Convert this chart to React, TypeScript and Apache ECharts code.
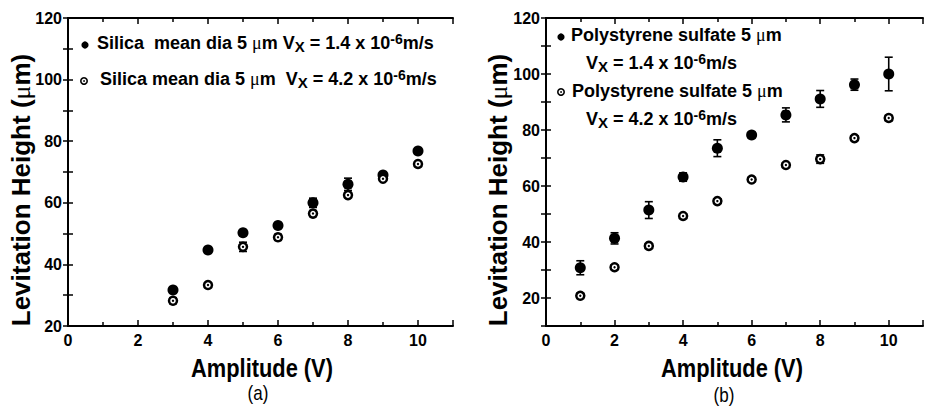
import React, { useEffect, useRef } from "react";
import * as echarts from "echarts";

// Panel (a): silica particles
const amplitudeA = [3, 4, 5, 6, 7, 8, 9, 10];
const silicaSlow = [31.7, 44.7, 50.3, 52.6, 60.0, 66.0, 69.0, 76.8];
const silicaSlowErr = [1.0, 0.5, 0.5, 0.5, 1.5, 2.0, 1.0, 0.5];
const silicaFast = [28.2, 33.3, 45.7, 48.8, 56.5, 62.5, 67.8, 72.6];
const silicaFastErr = [1.0, 0.8, 1.5, 1.0, 1.0, 0.8, 0.8, 0.8];

// Panel (b): polystyrene sulfate particles
const amplitudeB = [1, 2, 3, 4, 5, 6, 7, 8, 9, 10];
const polySlow = [30.8, 41.3, 51.4, 63.2, 73.5, 78.2, 85.4, 91.1, 96.2, 100.0];
const polySlowErr = [2.5, 2.0, 3.0, 1.5, 3.0, 1.0, 2.5, 3.0, 2.0, 6.0];
const polyFast = [20.8, 31.0, 38.6, 49.3, 54.6, 62.3, 67.5, 69.6, 77.1, 84.3];
const polyFastErr = [1.0, 0.8, 0.8, 0.8, 0.8, 0.8, 0.8, 1.5, 0.8, 1.0];

const xTicksShown = [0, 2, 4, 6, 8, 10];

const FONT = '"Liberation Sans", Arial, sans-serif';
const SERIF = '"Liberation Serif", "DejaVu Serif", serif';

const zip = (xs: number[], ys: number[], es?: number[]) =>
  xs.map((x, i) => (es ? [x, ys[i], es[i]] : [x, ys[i]]));

function errorBars(data: number[][], gridIdx: number) {
  return {
    type: "custom",
    xAxisIndex: gridIdx * 2,
    yAxisIndex: gridIdx * 2,
    z: 2,
    silent: true,
    data,
    encode: { x: 0, y: 1 },
    renderItem: (_p: any, api: any) => {
      const x = api.value(0);
      const y = api.value(1);
      const e = api.value(2);
      const hi = api.coord([x, y + e]);
      const lo = api.coord([x, y - e]);
      const w = 4;
      const st = { stroke: "#000", lineWidth: 1.6 };
      return {
        type: "group",
        children: [
          { type: "line", shape: { x1: hi[0], y1: hi[1], x2: lo[0], y2: lo[1] }, style: st },
          { type: "line", shape: { x1: hi[0] - w, y1: hi[1], x2: hi[0] + w, y2: hi[1] }, style: st },
          { type: "line", shape: { x1: lo[0] - w, y1: lo[1], x2: lo[0] + w, y2: lo[1] }, style: st },
        ],
      };
    },
  };
}

function filledSeries(data: number[][], gridIdx: number) {
  return {
    type: "scatter",
    xAxisIndex: gridIdx * 2,
    yAxisIndex: gridIdx * 2,
    z: 3,
    symbol: "circle",
    symbolSize: 11,
    itemStyle: { color: "#000", opacity: 1 },
    data,
  };
}

function openSeries(data: number[][], gridIdx: number) {
  return [
    {
      type: "scatter",
      xAxisIndex: gridIdx * 2,
      yAxisIndex: gridIdx * 2,
      z: 3,
      symbol: "circle",
      symbolSize: 8,
      itemStyle: { color: "#fff", borderColor: "#000", borderWidth: 2.5, opacity: 1 },
      data,
    },
    {
      type: "scatter",
      xAxisIndex: gridIdx * 2,
      yAxisIndex: gridIdx * 2,
      z: 4,
      symbol: "circle",
      symbolSize: 2.4,
      itemStyle: { color: "#000", opacity: 1 },
      data,
    },
  ];
}

const axisLineStyle = { lineStyle: { color: "#000", width: 2 } };

function xAxes(gridIndex: number) {
  const common = {
    type: "value",
    gridIndex,
    min: 0,
    max: 11,
    interval: 2,
    splitLine: { show: false },
    axisLine: axisLineStyle,
    axisTick: { inside: true, length: 6, lineStyle: { color: "#000", width: 1.5 } },
    minorTick: { show: true, splitNumber: 2, length: 4, lineStyle: { color: "#000", width: 1.5 } },
  };
  return [
    {
      ...common,
      position: "bottom",
      axisLabel: {
        color: "#000",
        fontFamily: FONT,
        fontWeight: "bold",
        fontSize: 16,
        margin: 6,
        formatter: (v: number) => (xTicksShown.includes(v) ? String(v) : ""),
      },
    },
    { ...common, position: "top", axisLabel: { show: false } },
  ];
}

function yAxes(gridIndex: number, min: number, labelStep: number) {
  const common = {
    type: "value",
    gridIndex,
    min,
    max: 120,
    interval: 10,
    splitLine: { show: false },
    axisLine: axisLineStyle,
    axisTick: { inside: true, length: 5, lineStyle: { color: "#000", width: 1.5 } },
  };
  return [
    {
      ...common,
      position: "left",
      axisLabel: {
        color: "#000",
        fontFamily: FONT,
        fontWeight: "bold",
        fontSize: 16,
        margin: 6,
        formatter: (v: number) => (v % labelStep === 0 ? String(v) : ""),
      },
    },
    { ...common, position: "right", axisLabel: { show: false } },
  ];
}

const rich = {
  m: { fontFamily: FONT, fontWeight: "bold", fontSize: 18, lineHeight: 22, verticalAlign: "middle", fill: "#000" },
  mu: { fontFamily: SERIF, fontWeight: "normal", fontSize: 18, lineHeight: 22, verticalAlign: "middle", fill: "#000" },
  sub: { fontFamily: FONT, fontWeight: "bold", fontSize: 15, lineHeight: 8, verticalAlign: "bottom", fill: "#000" },
  sup: { fontFamily: FONT, fontWeight: "bold", fontSize: 14, lineHeight: 8, verticalAlign: "top", fill: "#000" },
};

function legendText(x: number, y: number, text: string) {
  return {
    type: "text",
    x,
    y,
    z: 10,
    style: { text, rich, verticalAlign: "middle", align: "left", fill: "#000" },
  };
}

function filledDot(x: number, y: number) {
  return { type: "circle", z: 10, shape: { cx: x, cy: y, r: 3.6 }, style: { fill: "#000" } };
}

function openDot(x: number, y: number) {
  return [
    { type: "circle", z: 10, shape: { cx: x, cy: y, r: 3.2 }, style: { fill: "#fff", stroke: "#000", lineWidth: 1.6 } },
    { type: "circle", z: 11, shape: { cx: x, cy: y, r: 0.9 }, style: { fill: "#000" } },
  ];
}

function title(
  x: number,
  y: number,
  text: string,
  opts: { rotate?: number; size?: number; weight?: string; squeeze?: number } = {}
) {
  const { rotate = 0, size = 24, weight = "bold", squeeze = 1 } = opts;
  return {
    type: "text",
    x,
    y,
    rotation: rotate,
    scaleX: squeeze,
    z: 10,
    style: {
      text,
      fontFamily: FONT,
      fontSize: size,
      fontWeight: weight,
      fill: "#000",
      align: "center",
      verticalAlign: "middle",
      rich: {
        mu: { fontFamily: SERIF, fontWeight: "normal", fontSize: size, fill: "#000" },
      },
    },
  };
}

const silicaLine1 = "{m|Silica  mean dia 5 }{mu|μ}{m|m V}{sub|X}{m| = 1.4 x 10}{sup|-6}{m|m/s}";
const silicaLine2 = "{m|Silica mean dia 5 }{mu|μ}{m|m  V}{sub|X}{m| = 4.2 x 10}{sup|-6}{m|m/s}";
const polyName = "{m|Polystyrene sulfate 5 }{mu|μ}{m|m}";
const polySpeed1 = "{m|V}{sub|X}{m| = 1.4 x 10}{sup|-6}{m|m/s}";
const polySpeed2 = "{m|V}{sub|X}{m| = 4.2 x 10}{sup|-6}{m|m/s}";
const yTitle = "Levitation Height ({mu|μ}m)";
const xTitle = "Amplitude (V)";

export default function App() {
  const ref = useRef<HTMLDivElement>(null);

  useEffect(() => {
    if (!ref.current) return;
    const chart = echarts.init(ref.current, undefined, { renderer: "svg" });
    chart.setOption({
      animation: false,
      backgroundColor: "#fff",
      grid: [
        { left: 68, top: 18, width: 385, height: 308 },
        { left: 546, top: 18, width: 383, height: 308 },
      ],
      xAxis: [...xAxes(0), ...xAxes(1)],
      yAxis: [...yAxes(0, 20, 20), ...yAxes(1, 10, 20)],
      series: [
        errorBars(zip(amplitudeA, silicaSlow, silicaSlowErr), 0),
        errorBars(zip(amplitudeA, silicaFast, silicaFastErr), 0),
        filledSeries(zip(amplitudeA, silicaSlow), 0),
        ...openSeries(zip(amplitudeA, silicaFast), 0),
        errorBars(zip(amplitudeB, polySlow, polySlowErr), 1),
        errorBars(zip(amplitudeB, polyFast, polyFastErr), 1),
        filledSeries(zip(amplitudeB, polySlow), 1),
        ...openSeries(zip(amplitudeB, polyFast), 1),
      ],
      graphic: [
        filledDot(85, 45),
        legendText(97, 43, silicaLine1),
        ...openDot(84, 81),
        legendText(100, 79, silicaLine2),
        filledDot(561, 37),
        legendText(571, 35, polyName),
        legendText(586, 63, polySpeed1),
        ...openDot(561, 92),
        legendText(572, 91, polyName),
        legendText(586, 119, polySpeed2),
        title(21, 190, yTitle, { rotate: Math.PI / 2, size: 26 }),
        title(498, 190, yTitle, { rotate: Math.PI / 2, size: 26 }),
        title(262, 368, xTitle, { size: 26, squeeze: 0.84 }),
        title(732, 368, xTitle, { size: 26, squeeze: 0.84 }),
        title(258, 393, "(a)", { size: 20, weight: "normal", squeeze: 0.85 }),
        title(724, 395, "(b)", { size: 20, weight: "normal", squeeze: 0.85 }),
      ],
    });
    return () => chart.dispose();
  }, []);

  return (
    <div
      ref={ref}
      style={{ position: "absolute", left: 0, top: 0, width: 926, height: 415, background: "#fff" }}
    />
  );
}
